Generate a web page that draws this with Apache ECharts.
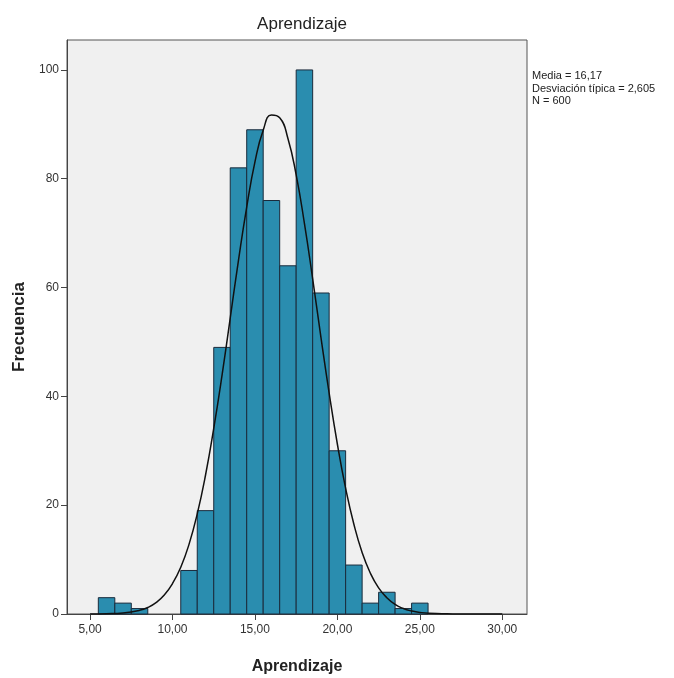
<!DOCTYPE html>
<html>
<head>
<meta charset="utf-8">
<script src="https://cdn.jsdelivr.net/npm/echarts@6/dist/echarts.min.js"></script>
<style>
  html, body { margin: 0; padding: 0; background: #fff; }
  #chart { width: 674px; height: 678px; }
</style>
</head>
<body>
<div id="chart"></div>
<script>
// histogram bins (centre of each 1-wide bin) and counts
var binCenters = [6, 7, 8, 9, 10, 11, 12, 13, 14, 15, 16, 17, 18, 19, 20, 21, 22, 23, 24, 25];
var counts     = [3, 2, 1, 0, 0, 8, 19, 49, 82, 89, 76, 64, 100, 59, 30, 9, 2, 4, 1, 2];

// normal curve
var curveX = [5, 6, 7, 8, 8.5, 9, 9.5, 10, 10.5, 11, 11.5, 12, 12.5, 13, 13.5, 14, 14.5, 15, 15.5,
              16, 16.5, 17, 17.5, 18, 18.5, 19, 19.5, 20, 20.5, 21, 21.5, 22, 22.5, 23, 23.5, 24,
              24.5, 25, 26, 27, 28, 29, 30];
var curveY = [0.01, 0.05, 0.19, 0.67, 1.2, 2.1, 3.5, 5.6, 8.6, 12.8, 18.4, 25.5, 34.1, 43.8, 54.4, 65.0, 74.8, 83.1, 88.9,
              91.7, 91.2, 87.4, 80.7, 71.8, 61.6, 50.9, 40.6, 31.2, 23.1, 16.5, 11.3, 7.5, 4.8, 3.0, 1.75, 1.0,
              0.55, 0.29, 0.07, 0.02, 0, 0, 0];

var xTicks = [5, 10, 15, 20, 25, 30];
var yTicks = [0, 20, 40, 60, 80, 100];
var statLines = ['Media = 16,17', 'Desviación típica = 2,605', 'N = 600'];

var myChart = echarts.init(document.getElementById('chart'));

var barData = [];
for (var i = 0; i < binCenters.length; i++) {
    if (counts[i] > 0) barData.push([binCenters[i], counts[i]]);
}
var lineData = [];
for (var j = 0; j < curveX.length; j++) {
    lineData.push([curveX[j], curveY[j]]);
}

var font = '"Liberation Sans", Arial, sans-serif';

myChart.setOption({
    backgroundColor: '#ffffff',
    animation: false,
    title: {
        text: 'Aprendizaje',
        left: 297,
        top: 11,
        textAlign: 'center',
        textStyle: { fontFamily: font, fontSize: 17, fontWeight: 'normal', color: '#222' }
    },
    grid: {
        left: 67, right: 147, top: 40, bottom: 64,
        outerBoundsMode: 'none',
        containLabel: false,
        show: true,
        backgroundColor: '#f0f0f0',
        borderColor: '#555',
        borderWidth: 1
    },
    xAxis: {
        type: 'value',
        min: 3.6,
        max: 31.5,
        name: 'Aprendizaje',
        nameLocation: 'middle',
        nameGap: 45,
        nameTextStyle: { fontFamily: font, fontSize: 16, fontWeight: 'bold', color: '#222' },
        axisLine: { lineStyle: { color: '#444' } },
        axisTick: { show: true, length: 6, customValues: xTicks, lineStyle: { color: '#444' } },
        axisLabel: {
            customValues: xTicks,
            margin: 10,
            fontFamily: font, fontSize: 12, color: '#333',
            formatter: function (v) { return v.toFixed(2).replace('.', ','); }
        },
        splitLine: { show: false }
    },
    yAxis: {
        type: 'value',
        min: 0,
        max: 105.5,
        name: 'Frecuencia',
        nameLocation: 'middle',
        nameGap: 39,
        nameRotate: 90,
        nameTextStyle: { fontFamily: font, fontSize: 17, fontWeight: 'bold', color: '#222' },
        axisLine: { show: true, lineStyle: { color: '#444' } },
        axisTick: { show: true, length: 6, customValues: yTicks, lineStyle: { color: '#444' } },
        axisLabel: { customValues: yTicks, margin: 8, fontFamily: font, fontSize: 12, color: '#333' },
        splitLine: { show: false }
    },
    series: [
        {
            type: 'custom',
            data: barData,
            renderItem: function (params, api) {
                var x = api.value(0), y = api.value(1);
                var p0 = api.coord([x - 0.5, 0]);
                var p1 = api.coord([x + 0.5, y]);
                return {
                    type: 'rect',
                    shape: { x: p0[0], y: p1[1], width: p1[0] - p0[0], height: p0[1] - p1[1] },
                    style: { fill: '#2a8daf', stroke: '#1a2b3c', lineWidth: 1 }
                };
            },
            z: 2
        },
        {
            type: 'line',
            data: lineData,
            smooth: true,
            showSymbol: false,
            lineStyle: { color: '#111', width: 1.5 },
            z: 3
        }
    ],
    graphic: [{
        type: 'text',
        left: 532,
        top: 70,
        style: {
            text: statLines.join('\n'),
            fontFamily: font,
            fontSize: 11,
            lineHeight: 12.5,
            fill: '#222'
        }
    }]
});

window.addEventListener('resize', function () {
    myChart.resize();
});
</script>
</body>
</html>
